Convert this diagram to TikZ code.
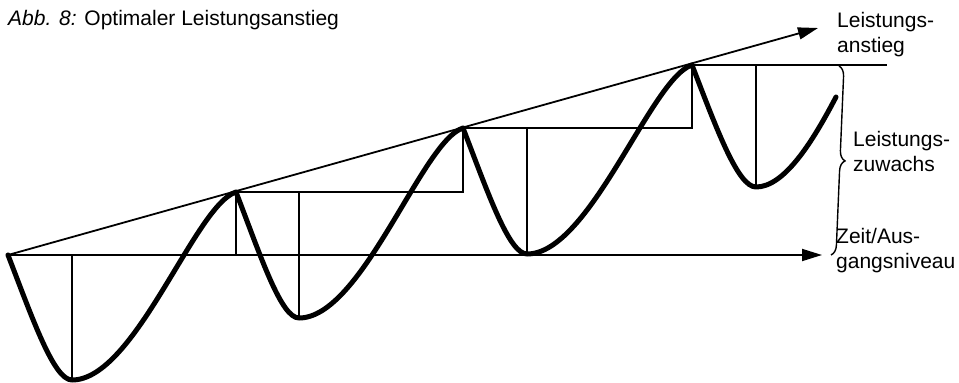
\documentclass[tikz,border=0pt]{standalone}
\usepackage{fontspec}
\setmainfont{Liberation Sans}
\usetikzlibrary{arrows.meta,decorations.pathreplacing}
\begin{document}
\begin{tikzpicture}[x=1pt,y=-1pt,
  thin line/.style={line width=1.8pt},
  curve/.style={line width=5pt,line join=round,line cap=round},
  axis arrow/.style={line width=1.8pt,-{Triangle[length=20pt,width=12pt]}},
  lbl/.style={anchor=base west,inner sep=0pt,align=left,font=\fontsize{21}{25}\selectfont}]
\useasboundingbox (0,0) rectangle (959,383);
% key points
\coordinate (S) at (8,255);
\coordinate (M1) at (72,380);
\coordinate (P1) at (236,192);
\coordinate (M2) at (299,318);
\coordinate (P2) at (463,128);
\coordinate (M3) at (527,254);
\coordinate (P3) at (692,65);
\coordinate (M4) at (756,187);
\coordinate (E) at (836,97);
\coordinate (B1) at (72,255);
\coordinate (B2) at (236,255);
\coordinate (H1) at (463,192);
\coordinate (V2) at (299,192);
\coordinate (H2) at (692,128);
\coordinate (V3) at (527,128);
\coordinate (H3) at (887,65);
\coordinate (V4) at (756,65);
\coordinate (XT) at (822,255);
\coordinate (RT) at (818,28);
\coordinate (BT) at (839,66);
\coordinate (BB) at (831,255);
% axes
\draw[axis arrow] (S) -- (XT);
\draw[axis arrow] (S) -- (RT);
% step lines
\draw[thin line] (M1) -- (B1);
\draw[thin line] (B2) -- (P1) -- (H1) -- (P2) -- (H2) -- (P3) -- (H3);
\draw[thin line] (M2) -- (V2);
\draw[thin line] (M3) -- (V3);
\draw[thin line] (M4) -- (V4);
% brace
\draw[line width=1.4pt,decorate,decoration={brace,amplitude=10pt}] (BT) -- (BB);
% curve
\draw[curve] (S) .. controls +(25,65) and +(-18,0) .. (M1)
  .. controls +(63,0) and +(-41,13) .. (P1)
  .. controls +(25,65) and +(-18,0) .. (M2)
  .. controls +(63,0) and +(-41,13) .. (P2)
  .. controls +(25,65) and +(-18,0) .. (M3)
  .. controls +(63,0) and +(-41,13) .. (P3)
  .. controls +(25,65) and +(-18,0) .. (M4)
  .. controls +(28,0) and +(-24,46) .. (E);
% texts
\node[lbl] (title) at (8,25) {\textit{Abb. 8:} Optimaler Leistungsanstieg};
\node[lbl] (anstieg) at (837,52) {Leistungs-\\anstieg};
\node[lbl] (zuwachs) at (853,171) {Leistungs-\\zuwachs};
\node[lbl] (zeit) at (836,268) {Zeit/Aus-\\gangsniveau};
\end{tikzpicture}
\end{document}
